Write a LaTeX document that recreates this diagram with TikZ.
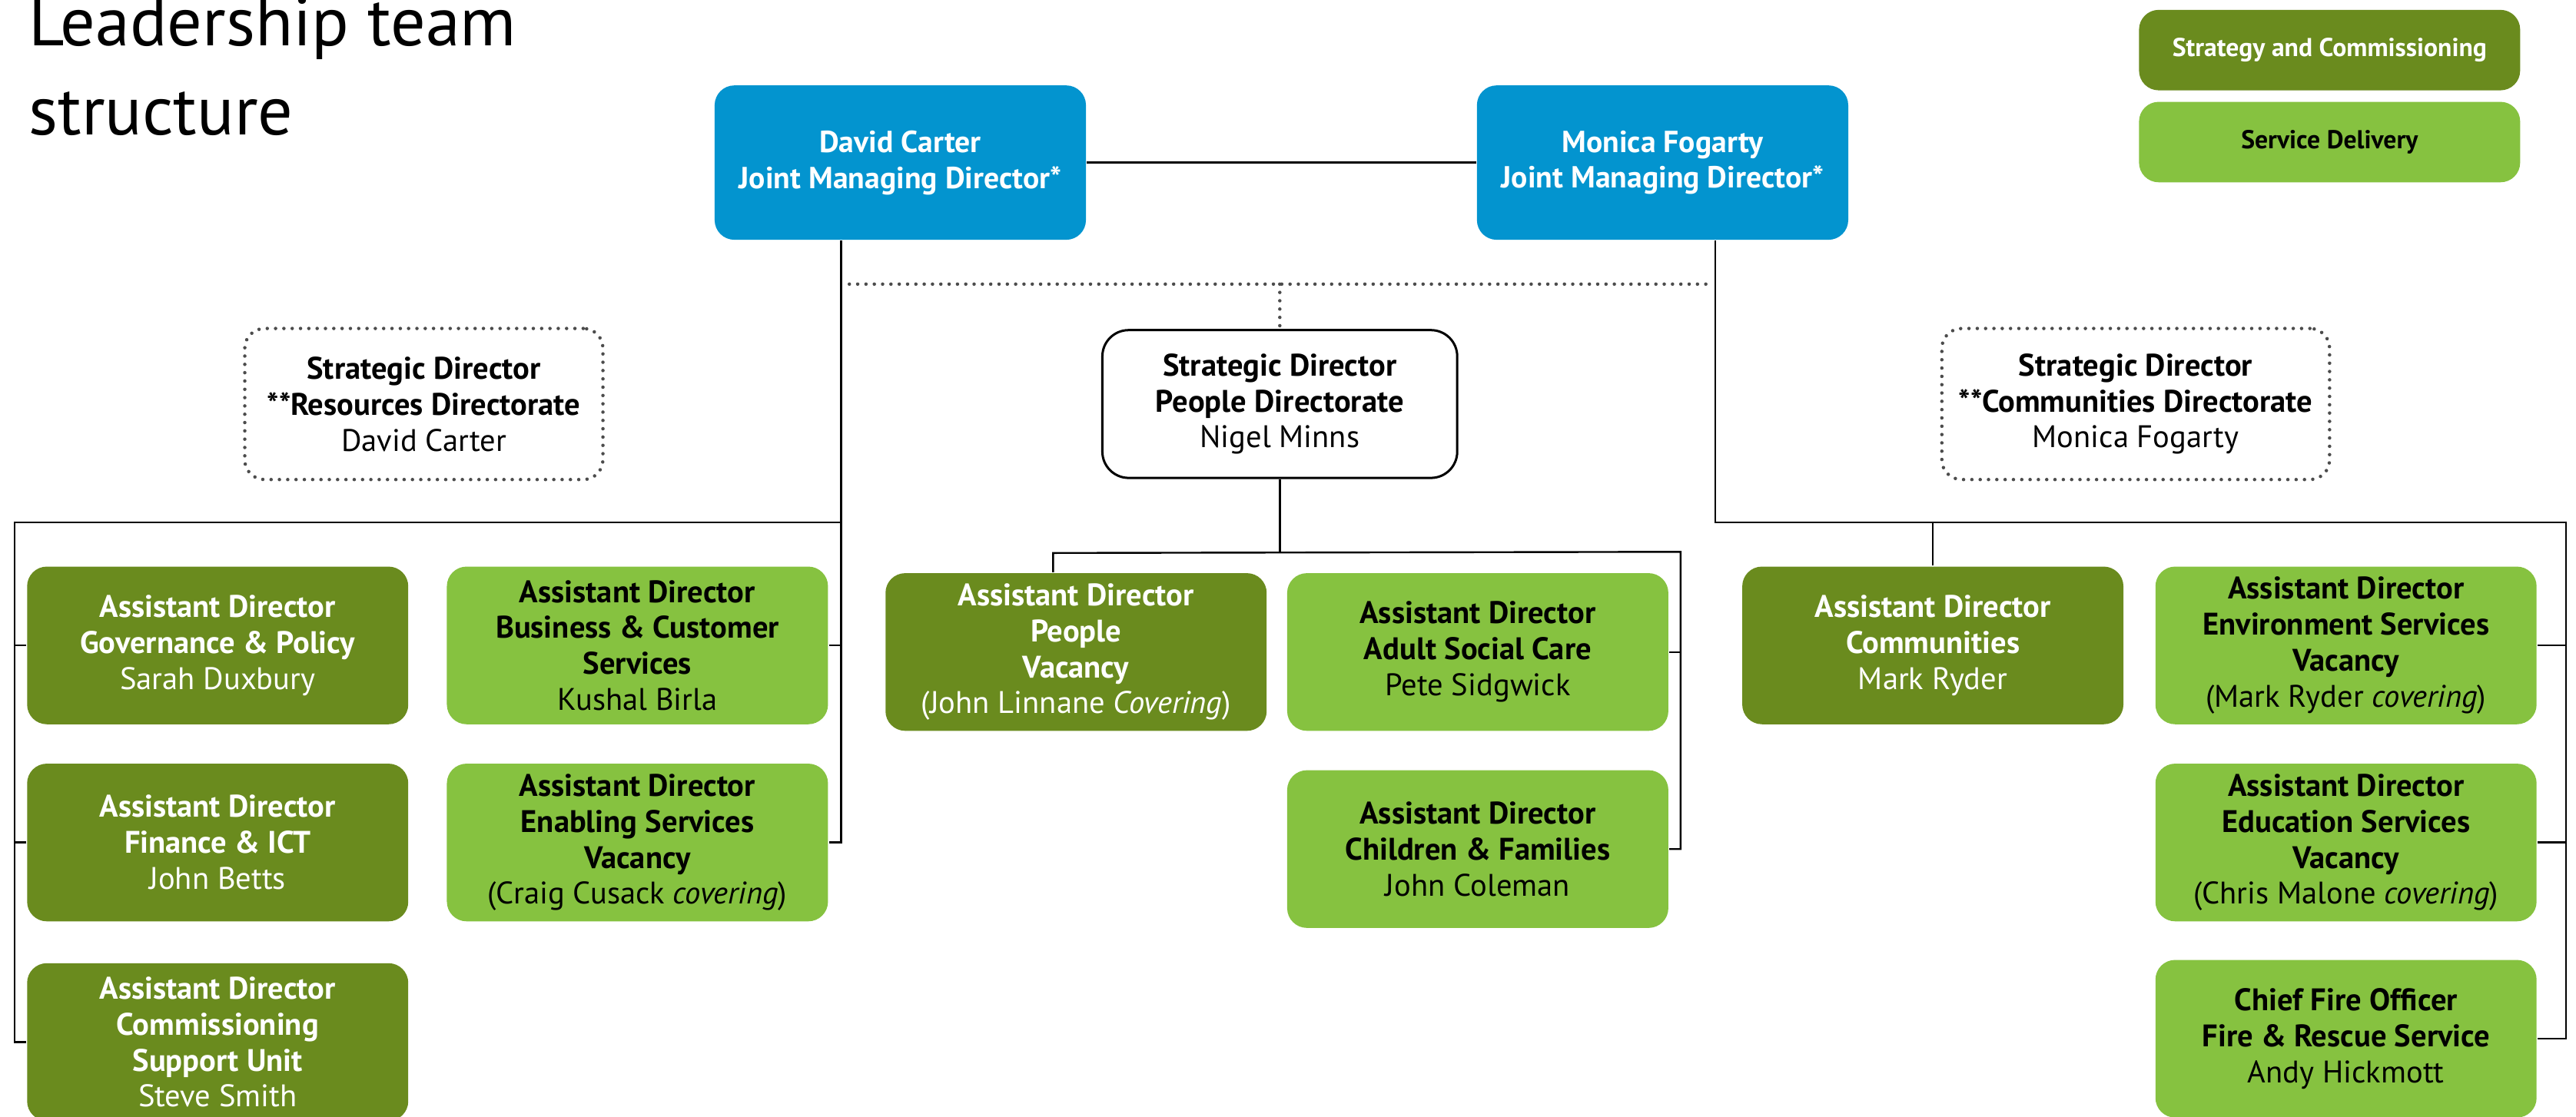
\documentclass[tikz,border=0pt]{standalone}
\usepackage{fontspec}
\setmainfont{PT Sans}
\usetikzlibrary{calc}

\definecolor{jmdblue}{HTML}{0394CF}
\definecolor{stratgreen}{HTML}{6A8B1E}
\definecolor{delivgreen}{HTML}{86C240}

\tikzset{
  orgbox/.style={rounded corners=3mm, minimum width=58mm, minimum height=24mm, inner sep=1pt, align=center, font=\fontsize{13.5}{15.6}\selectfont},
  stratbox/.style={orgbox, fill=stratgreen, text=white},
  delivbox/.style={orgbox, fill=delivgreen, text=black},
  jmdbox/.style={orgbox, fill=jmdblue, text=white, minimum width=56.5mm, minimum height=23.5mm, font=\fontsize{13.2}{15.6}\selectfont\bfseries},
  dotbox/.style={orgbox, minimum height=23mm, draw=black!70, line width=1.5pt, dash pattern=on 0pt off 3.6pt, line cap=round},
  dotline/.style={draw=black!70, line width=1.5pt, dash pattern=on 0pt off 3.6pt, line cap=round},
  keybox/.style={rounded corners=3mm, minimum width=58mm, minimum height=12.25mm, font=\fontsize{11.2}{13}\selectfont\bfseries},
  titletext/.style={anchor=base west, inner sep=0pt, font=\fontsize{30}{30}\selectfont}
}

\begin{document}
\begin{tikzpicture}[x=0.25mm, y=-0.25mm, line width=0.8pt]
  \useasboundingbox (0,0) rectangle (1568,679.7);

  % title and key
  \node[titletext] (title) at (17,28) {Leadership team};
  \node[titletext] (title2) at (17,82) {structure};
  \node[keybox, fill=stratgreen, text=white] (keysc) at (1418,30.5) {Strategy and Commissioning};
  \node[keybox, fill=delivgreen] (keysd) at (1418,86.5) {Service Delivery};

  % joint managing directors
  \node[jmdbox] (dc) at (548,99) {David Carter\\Joint Managing Director*};
  \node[jmdbox] (mf) at (1012,99) {Monica Fogarty\\Joint Managing Director*};
  \draw (dc) -- (mf);

  % strategic directors
  \node[dotbox, minimum width=54.5mm] (rsd) at (258,246) {\textbf{Strategic Director}\\\textbf{**Resources Directorate}\\David Carter};
  \node[orgbox, draw, line width=1pt, rounded corners=4mm, minimum width=54mm, minimum height=22.5mm] (pdir) at (779,246) {\textbf{Strategic Director}\\\textbf{People Directorate}\\Nigel Minns};
  \node[dotbox, minimum width=59mm] (csd) at (1300,246) {\textbf{Strategic Director}\\\textbf{**Communities Directorate}\\Monica Fogarty};

  % resources
  \node[stratbox] (gov) at (132.5,393) {\textbf{Assistant Director}\\\textbf{Governance \& Policy}\\Sarah Duxbury};
  \node[stratbox] (fin) at (132.5,513) {\textbf{Assistant Director}\\\textbf{Finance \& ICT}\\John Betts};
  \node[stratbox] (csu) at (132.5,634.5) {\textbf{Assistant Director}\\\textbf{Commissioning}\\\textbf{Support Unit}\\Steve Smith};
  \node[delivbox] (bcs) at (388,393) {\textbf{Assistant Director}\\\textbf{Business \& Customer}\\\textbf{Services}\\Kushal Birla};
  \node[delivbox] (ens) at (388,513) {\textbf{Assistant Director}\\\textbf{Enabling Services}\\\textbf{Vacancy}\\(Craig Cusack \textit{covering})};

  % people
  \node[stratbox] (pad) at (655,397) {\textbf{Assistant Director}\\\textbf{People}\\\textbf{Vacancy}\\(John Linnane \textit{Covering})};
  \node[delivbox] (asc) at (899.5,397) {\textbf{Assistant Director}\\\textbf{Adult Social Care}\\Pete Sidgwick};
  \node[delivbox] (cf) at (899.5,517) {\textbf{Assistant Director}\\\textbf{Children \& Families}\\John Coleman};

  % communities
  \node[stratbox] (comm) at (1176.5,393) {\textbf{Assistant Director}\\\textbf{Communities}\\Mark Ryder};
  \node[delivbox] (env) at (1428,393) {\textbf{Assistant Director}\\\textbf{Environment Services}\\\textbf{Vacancy}\\(Mark Ryder \textit{covering})};
  \node[delivbox] (edu) at (1428,513) {\textbf{Assistant Director}\\\textbf{Education Services}\\\textbf{Vacancy}\\(Chris Malone \textit{covering})};
  \node[delivbox] (cfo) at (1428,632.5) {\textbf{Chief Fire Officer}\\\textbf{Fire \& Rescue Service}\\Andy Hickmott};

  \coordinate (lbus) at (512,318);
  \coordinate (lcorner) at (9,318);
  \coordinate (rbus) at (1044,318);
  \coordinate (rcorner) at (1562,318);
  \coordinate (dl) at (517,173);
  \coordinate (dr) at (1040,173);
  \coordinate (mright) at (1023,336);
  \path (pdir.south) ++(0,45) coordinate (mbus);
  \coordinate (padtop) at ($(pad.north west)!0.44!(pad.north east)$);

  % left tree
  \draw (dc.south -| lbus) -- (lbus |- ens.east) -- (ens.east);
  \draw (bcs.east) -- (bcs.east -| lbus);
  \draw (lbus) -- (lcorner) |- (csu.west);
  \draw (gov.west) -- (gov.west -| lcorner);
  \draw (fin.west) -- (fin.west -| lcorner);

  % middle tree
  \draw[dotline] (dl) -- (dr);
  \draw[dotline] (pdir.north |- dl) -- (pdir.north);
  \draw (pdir.south) -- (mbus);
  \draw (padtop) -- (padtop |- mbus) -- (mright) |- (cf.east);
  \draw (asc.east) -- (asc.east -| mright);

  % right tree
  \draw (mf.south -| rbus) -- (rbus) -- (rcorner) |- (cfo.east);
  \draw (comm.north) -- (comm.north |- rbus);
  \draw (env.east) -- (env.east -| rcorner);
  \draw (edu.east) -- (edu.east -| rcorner);
\end{tikzpicture}
\end{document}
